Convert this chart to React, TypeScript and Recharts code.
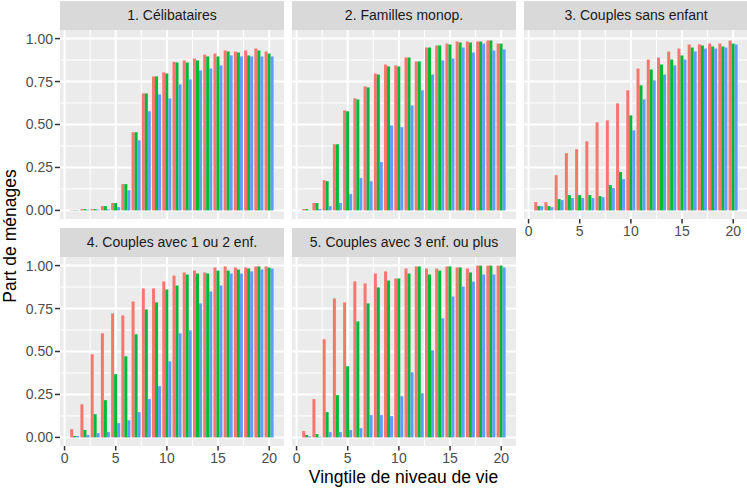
import React from "react"
import { BarChart, Bar, XAxis, YAxis, CartesianGrid } from "recharts"

// Vingtiles (x) and the three series shown in each facet
const VINGTILES = [1, 2, 3, 4, 5, 6, 7, 8, 9, 10, 11, 12, 13, 14, 15, 16, 17, 18, 19, 20]

const PANEL_TITLES = [
  "1. Célibataires",
  "2. Familles monop.",
  "3. Couples sans enfant",
  "4. Couples avec 1 ou 2 enf.",
  "5. Couples avec 3 enf. ou plus",
]

const celibRed = [0.002, 0.008, 0.008, 0.025, 0.043, 0.153, 0.455, 0.681, 0.78, 0.803, 0.865, 0.873, 0.884, 0.907, 0.913, 0.931, 0.925, 0.931, 0.942, 0.925]
const celibGreen = [0.002, 0.008, 0.008, 0.025, 0.043, 0.153, 0.455, 0.681, 0.78, 0.797, 0.861, 0.861, 0.873, 0.896, 0.896, 0.925, 0.919, 0.902, 0.931, 0.913]
const celibBlue = [0.002, 0.004, 0.004, 0.006, 0.019, 0.118, 0.408, 0.577, 0.675, 0.652, 0.733, 0.762, 0.815, 0.826, 0.844, 0.902, 0.896, 0.896, 0.896, 0.896]

const monoRed = [0.008, 0.043, 0.176, 0.385, 0.582, 0.652, 0.722, 0.797, 0.849, 0.844, 0.89, 0.867, 0.948, 0.96, 0.971, 0.983, 0.983, 0.983, 0.989, 0.971]
const monoGreen = [0.008, 0.043, 0.17, 0.385, 0.577, 0.646, 0.716, 0.791, 0.838, 0.838, 0.89, 0.867, 0.948, 0.96, 0.966, 0.977, 0.977, 0.983, 0.989, 0.971]
const monoBlue = [0.002, 0.008, 0.025, 0.043, 0.095, 0.188, 0.17, 0.281, 0.495, 0.484, 0.611, 0.699, 0.791, 0.873, 0.884, 0.948, 0.919, 0.971, 0.931, 0.937]

const sansRed = [0.048, 0.048, 0.205, 0.333, 0.356, 0.402, 0.513, 0.524, 0.623, 0.699, 0.826, 0.878, 0.89, 0.925, 0.942, 0.966, 0.966, 0.971, 0.971, 0.989]
const sansGreen = [0.025, 0.025, 0.066, 0.089, 0.089, 0.089, 0.083, 0.147, 0.223, 0.553, 0.728, 0.82, 0.849, 0.878, 0.902, 0.948, 0.96, 0.954, 0.954, 0.971]
const sansBlue = [0.025, 0.019, 0.06, 0.072, 0.072, 0.072, 0.077, 0.13, 0.182, 0.466, 0.646, 0.757, 0.791, 0.844, 0.878, 0.925, 0.942, 0.942, 0.948, 0.966]

const c12Red = [0.048, 0.193, 0.484, 0.606, 0.722, 0.71, 0.791, 0.867, 0.867, 0.908, 0.942, 0.96, 0.971, 0.96, 0.989, 0.995, 0.989, 0.989, 0.995, 0.995]
const c12Green = [0.008, 0.043, 0.135, 0.217, 0.368, 0.472, 0.6, 0.745, 0.786, 0.861, 0.884, 0.948, 0.954, 0.954, 0.971, 0.971, 0.977, 0.983, 0.995, 0.989]
const c12Blue = [0.008, 0.014, 0.025, 0.031, 0.083, 0.1, 0.147, 0.223, 0.298, 0.443, 0.606, 0.623, 0.78, 0.849, 0.884, 0.954, 0.954, 0.966, 0.977, 0.983]

const c3Red = [0.037, 0.223, 0.571, 0.809, 0.786, 0.908, 0.896, 0.954, 0.966, 0.925, 0.983, 0.995, 0.983, 0.983, 0.995, 0.989, 0.983, 1.0, 1.0, 1.0]
const c3Green = [0.014, 0.019, 0.147, 0.246, 0.414, 0.675, 0.78, 0.873, 0.913, 0.925, 0.954, 0.995, 0.948, 0.971, 0.995, 0.989, 0.96, 1.0, 1.0, 1.0]
const c3Blue = [0.006, 0.004, 0.031, 0.031, 0.043, 0.054, 0.13, 0.13, 0.124, 0.24, 0.379, 0.257, 0.507, 0.693, 0.82, 0.878, 0.907, 0.948, 0.948, 0.989]

const PANEL_SERIES = [
  [celibRed, celibGreen, celibBlue],
  [monoRed, monoGreen, monoBlue],
  [sansRed, sansGreen, sansBlue],
  [c12Red, c12Green, c12Blue],
  [c3Red, c3Green, c3Blue],
]

const X_TICKS = [0, 5, 10, 15, 20]
const X_MINOR = [2.5, 7.5, 12.5, 17.5]
const Y_TICKS = [0, 0.25, 0.5, 0.75, 1]
const Y_MINOR = [0.125, 0.375, 0.625, 0.875]

const COLORS = ["#F8766D", "#00BA38", "#619CFF"]
const FONT = "'Liberation Sans', Arial, Helvetica, sans-serif"

// layout (px)
const COL_LEFT = [60, 292, 524]
const ROW_TOP = [30, 256.5]
const PANEL_W = 224
const PANEL_H = 189
const STRIP_H = 29
const Y_AXIS_W = 60
const X_AXIS_H = 26
const X_DOMAIN = [-0.445, 21.445]
const CAT_PAD = (0.945 * PANEL_W) / (X_DOMAIN[1] - X_DOMAIN[0])

const tickStyle = { fontSize: 14, fill: "#4D4D4D", fontFamily: FONT }

function Panel({ index }: { index: number }) {
  const col = index % 3
  const row = Math.floor(index / 3)
  const showX = index >= 2
  const showY = col === 0
  const yW = showY ? Y_AXIS_W : 0
  const [red, green, blue] = PANEL_SERIES[index]
  const data = VINGTILES.map((v, i) => ({ v, a: red[i], b: green[i], c: blue[i] }))

  return (
    <>
      {/* strip */}
      <div
        style={{
          position: "absolute",
          left: COL_LEFT[col],
          top: ROW_TOP[row] - STRIP_H,
          width: PANEL_W,
          height: STRIP_H,
          background: "#D9D9D9",
          color: "#1A1A1A",
          fontSize: 14,
          lineHeight: `${STRIP_H}px`,
          textAlign: "center",
          fontFamily: FONT,
        }}
      >
        {PANEL_TITLES[index]}
      </div>
      <div style={{ position: "absolute", left: COL_LEFT[col] - yW, top: ROW_TOP[row] }}>
        <BarChart
          width={PANEL_W + yW}
          height={PANEL_H + (showX ? X_AXIS_H : 0)}
          data={data}
          margin={{ top: 0, right: 0, bottom: 0, left: 0 }}
          barCategoryGap="5%"
          barGap={0}
        >
          <CartesianGrid
            xAxisId="num"
            fill="#EBEBEB"
            stroke="#FFFFFF"
            strokeWidth={2}
            verticalValues={X_TICKS}
            horizontalValues={Y_TICKS}
          />
          <CartesianGrid
            xAxisId="num"
            stroke="#FFFFFF"
            strokeWidth={1}
            verticalValues={X_MINOR}
            horizontalValues={Y_MINOR}
          />
          <XAxis
            xAxisId="cat"
            dataKey="v"
            type="category"
            orientation="top"
            height={0}
            hide
            padding={{ left: CAT_PAD, right: CAT_PAD }}
          />
          <XAxis
            xAxisId="num"
            dataKey="v"
            type="number"
            domain={X_DOMAIN}
            allowDataOverflow
            ticks={X_TICKS}
            interval={0}
            hide={!showX}
            height={showX ? X_AXIS_H : 0}
            axisLine={false}
            tickLine={{ stroke: "#333333", strokeWidth: 1.5 }}
            tickSize={4.5}
            tickMargin={3}
            tick={tickStyle}
          />
          <YAxis
            type="number"
            domain={[-0.05, 1.05]}
            allowDataOverflow
            ticks={Y_TICKS}
            interval={0}
            hide={!showY}
            width={Y_AXIS_W}
            axisLine={false}
            tickLine={{ stroke: "#333333", strokeWidth: 1.5 }}
            tickSize={5}
            tickMargin={2}
            tick={tickStyle}
            tickFormatter={(t: number) => t.toFixed(2)}
          />
          <Bar xAxisId="cat" dataKey="a" fill={COLORS[0]} isAnimationActive={false} />
          <Bar xAxisId="cat" dataKey="b" fill={COLORS[1]} isAnimationActive={false} />
          <Bar xAxisId="cat" dataKey="c" fill={COLORS[2]} isAnimationActive={false} />
        </BarChart>
      </div>
    </>
  )
}

export default function App() {
  return (
    <div
      style={{
        position: "absolute",
        left: 0,
        top: 0,
        width: 747,
        height: 488,
        background: "#FFFFFF",
        overflow: "hidden",
        fontFamily: FONT,
      }}
    >
      {PANEL_TITLES.map((_, i) => (
        <Panel key={i} index={i} />
      ))}

      {/* axis titles */}
      <svg width={747} height={488} style={{ position: "absolute", left: 0, top: 0, pointerEvents: "none" }}>
        <text x={403.5} y={483} textAnchor="middle" fontSize={17.5} fill="#000000" fontFamily={FONT}>
          Vingtile de niveau de vie
        </text>
        <text
          transform="translate(16, 236) rotate(-90)"
          textAnchor="middle"
          fontSize={17.5}
          fill="#000000"
          fontFamily={FONT}
        >
          Part de ménages
        </text>
      </svg>
    </div>
  )
}
